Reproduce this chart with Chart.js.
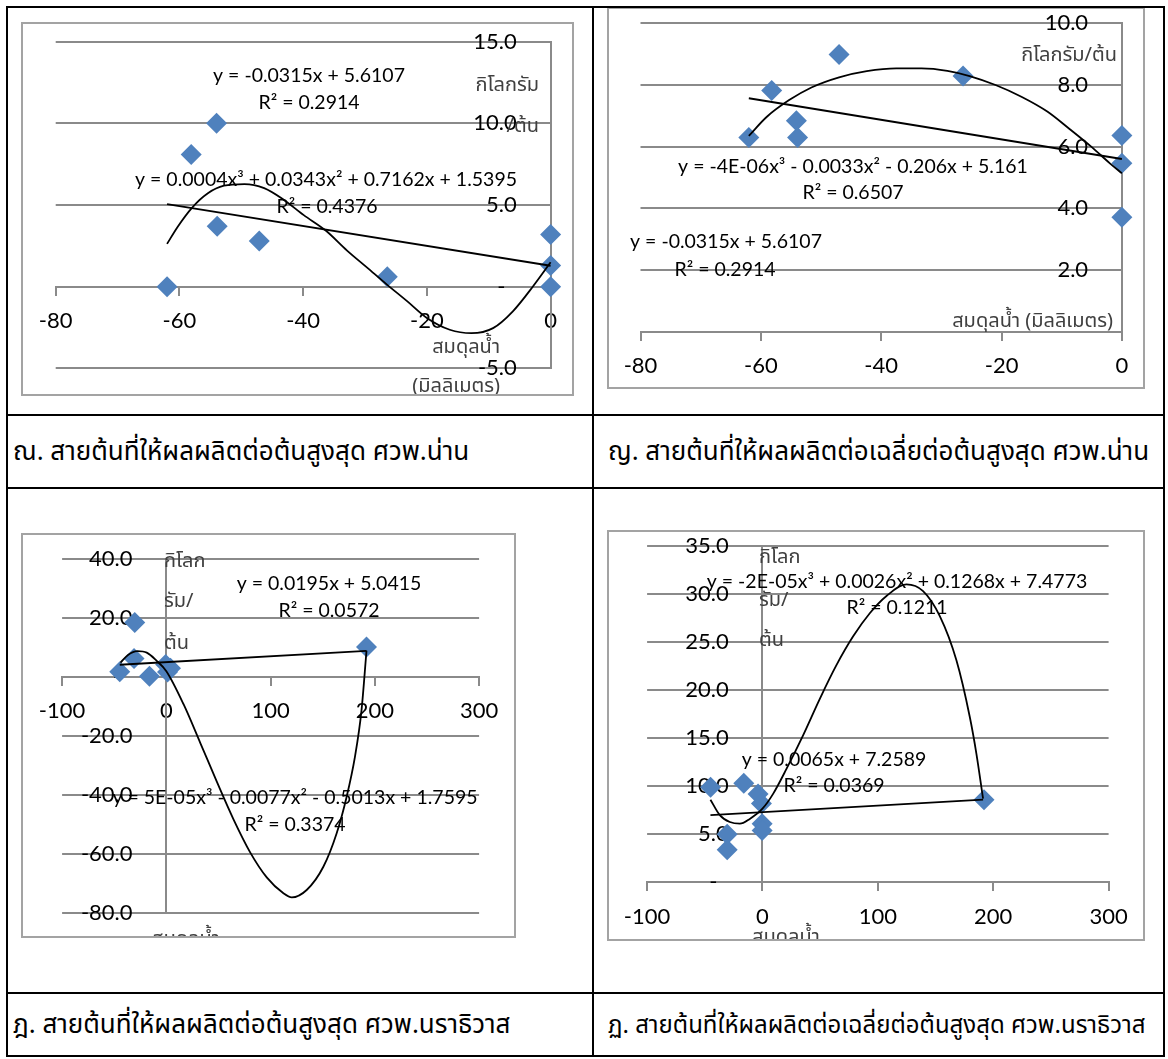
<!DOCTYPE html>
<html>
<head>
<meta charset="utf-8">
<script src="https://cdn.jsdelivr.net/npm/chart.js@4.4.0/dist/chart.umd.min.js"></script>
<style>
  body { margin: 0; background: #fff; }
  #page { position: relative; width: 1168px; height: 1059px; overflow: hidden; font-family: 'Noto Sans Thai', Loma, Garuda, 'DejaVu Sans', sans-serif; }
  .line { position: absolute; background: #000; z-index: 5; }
  .frame { position: absolute; box-sizing: border-box; border: 2px solid #a3a3a3; z-index: 3; }
  canvas { position: absolute; z-index: 2; }
  .cap { position: absolute; font-size: 26px; color: #000; white-space: nowrap; line-height: 1; }
</style>
</head>
<body>
<div id="page">
  <canvas id="c1" width="553" height="374" style="left:21px;top:22px"></canvas>
  <div class="frame" style="left:21px;top:22px;width:553px;height:374px"></div>
  <canvas id="c2" width="538" height="382" style="left:607px;top:7px"></canvas>
  <div class="frame" style="left:607px;top:7px;width:538px;height:382px"></div>
  <canvas id="c3" width="495" height="405" style="left:21px;top:533px"></canvas>
  <div class="frame" style="left:21px;top:533px;width:495px;height:405px"></div>
  <canvas id="c4" width="538" height="411" style="left:607px;top:530px"></canvas>
  <div class="frame" style="left:607px;top:530px;width:538px;height:411px"></div>

  <div class="line" style="left:6px;top:6px;width:1159px;height:2px"></div>
  <div class="line" style="left:6px;top:1055px;width:1159px;height:2px"></div>
  <div class="line" style="left:6px;top:6px;width:2px;height:1051px"></div>
  <div class="line" style="left:1163px;top:6px;width:2px;height:1051px"></div>
  <div class="line" style="left:592px;top:6px;width:2px;height:1051px"></div>
  <div class="line" style="left:6px;top:414px;width:1159px;height:2px"></div>
  <div class="line" style="left:6px;top:487px;width:1159px;height:2px"></div>
  <div class="line" style="left:6px;top:992px;width:1159px;height:2px"></div>

  <div class="cap" style="left:13px;top:439px">ณ. สายต้นที่ให้ผลผลิตต่อต้นสูงสุด ศวพ.น่าน</div>
  <div class="cap" style="left:608px;top:439px">ญ. สายต้นที่ให้ผลผลิตต่อเฉลี่ยต่อต้นสูงสุด ศวพ.น่าน</div>
  <div class="cap" style="left:13px;top:1012px">ฎ. สายต้นที่ให้ผลผลิตต่อต้นสูงสุด ศวพ.นราธิวาส</div>
  <div class="cap" style="left:608px;top:1014px;font-size:24px">ฏ. สายต้นที่ให้ผลผลิตต่อเฉลี่ยต่อต้นสูงสุด ศวพ.นราธิวาส</div>
</div>
<script>
// ณ. ผลผลิตต่อต้นสูงสุด ศวพ.น่าน
var nanMaxX = [-62, -58.1, -54, -53.9, -47.1, -26.4, 0, 0, 0];
var nanMaxY = [0, 8.1, 10.0, 3.7, 2.8, 0.6, 3.2, 1.3, 0];
var nanMaxLinX = [-62, 0];
var nanMaxLinY = [5.06, 1.28];
var nanMaxPolyX = [-62, -60.3, -57.9, -55.4, -52.8, -49.5, -46.3, -43.1, -39.9, -36.4, -32.9, -29.7, -26.5, -23.2, -20.0, -16.3, -12.8, -9.3, -6.1, -2.8, 0];
var nanMaxPolyY = [2.62, 3.66, 4.86, 5.72, 6.18, 6.28, 6.03, 5.31, 4.38, 3.45, 2.21, 1.18, 0.14, -0.89, -1.92, -2.64, -2.85, -2.54, -1.51, 0.04, 1.49];

// ญ. ผลผลิตเฉลี่ยต่อต้นสูงสุด ศวพ.น่าน
var nanAvgX = [-62, -58.2, -54.1, -53.9, -47, -26.4, 0, 0, 0];
var nanAvgY = [6.3, 7.82, 6.84, 6.3, 8.99, 8.29, 6.36, 5.46, 3.71];
var nanAvgLinX = [-62, 0];
var nanAvgLinY = [7.57, 5.6];
var nanAvgPolyX = [-62, -59, -55.3, -51.6, -47, -42.4, -37.5, -33.3, -29, -25.3, -21, -16.7, -12.4, -8.8, -5.1, -2, 0];
var nanAvgPolyY = [6.35, 6.97, 7.51, 7.92, 8.25, 8.45, 8.54, 8.54, 8.46, 8.29, 8.0, 7.62, 7.14, 6.59, 6.0, 5.46, 5.14];

// ฎ. ผลผลิตต่อต้นสูงสุด ศวพ.นราธิวาส
var narMaxX = [-44.7, -30.3, -31, -16.2, -0.7, 1.1, 4, 192];
var narMaxY = [1.8, 18.5, 6.3, 0.3, 4.3, 1.7, 3.0, 10.2];
var narMaxLinX = [-44.7, 192];
var narMaxLinY = [4.2, 8.9];
var narMaxPolyX = [-44, -36.8, -27.8, -18.8, -9.7, 0, 16.6, 32.5, 48.5, 64.4, 80.4, 96.3, 112.3, 120.3, 134.6, 150.6, 163.3, 172.9, 180.9, 187.2, 192];
var narMaxPolyY = [4.9, 7.5, 8.8, 8.3, 5.7, 2.0, -9.3, -22.3, -35.6, -48.3, -59.5, -68.0, -73.4, -74.8, -72.3, -64.4, -53.1, -40.7, -27.1, -11.3, 9.0];

// ฏ. ผลผลิตเฉลี่ยต่อต้นสูงสุด ศวพ.นราธิวาส
var narAvgX = [-45, -30.6, -30.6, -16.2, -3.8, -0.9, -0.3, -0.3, 192];
var narAvgY = [9.9, 5.0, 3.4, 10.3, 9.2, 8.2, 6.1, 5.4, 8.6];
var narAvgLinX = [-45.1, 191.2];
var narAvgLinY = [7.0, 8.6];
var narAvgPolyX = [-45.1, -37, -28.3, -19.6, -11, 0, 9.2, 20.8, 35.2, 49.7, 64.1, 78.6, 93, 107.5, 124.8, 139.2, 153.7, 168.1, 179.7, 185.4, 191.2];
var narAvgPolyY = [8.6, 7.0, 6.28, 6.1, 6.6, 7.66, 9.2, 11.8, 15.3, 19.1, 22.6, 25.6, 28.0, 29.8, 31.0, 30.3, 27.7, 23.1, 17.2, 13.4, 8.7];

var latin = 'Lato, "Open Sans", sans-serif';
var thai = '"Noto Sans Thai", Loma, Garuda, "DejaVu Sans", sans-serif';
var eqFont = '19.5px ' + latin;
var titleFont = '20px ' + thai;
var gridGray = '#8a8a8a';
// y labels sit a gap to the left of the axis (as Excel draws them)
var gap = '      ';
var dash = '-        ';

function pairs(xs, ys) {
  var out = [];
  for (var i = 0; i < xs.length; i++) out.push({x: xs[i], y: ys[i]});
  return out;
}

// text boxes drawn on top of the plot (equations, axis titles)
var notesPlugin = {
  id: 'notes',
  afterDraw: function(chart, args, opts) {
    var ctx = chart.ctx;
    ctx.save();
    opts.items.forEach(function(t) {
      ctx.font = t.font;
      ctx.fillStyle = t.color || '#000';
      ctx.textAlign = t.align || 'center';
      ctx.textBaseline = 'middle';
      ctx.fillText(t.text, t.x, t.y);
    });
    ctx.restore();
  }
};

function makeChart(id, cfg) {
  var ctx = document.getElementById(id).getContext('2d');
  return new Chart(ctx, {
    type: 'scatter',
    data: {
      datasets: [{
        type: 'line',
        data: pairs(cfg.polyX, cfg.polyY),
        borderColor: '#000',
        borderWidth: 1.8,
        pointRadius: 0,
        fill: false,
        cubicInterpolationMode: 'monotone',
        clip: false
      }, {
        type: 'line',
        data: pairs(cfg.linX, cfg.linY),
        borderColor: '#000',
        borderWidth: 1.8,
        pointRadius: 0,
        fill: false,
        tension: 0,
        clip: false
      }, {
        data: pairs(cfg.x, cfg.y),
        pointStyle: 'rectRot',
        pointRadius: 10.5,
        backgroundColor: '#4f81bd',
        borderColor: '#4f81bd',
        borderWidth: 0,
        clip: false
      }]
    },
    options: {
      responsive: false,
      animation: false,
      events: [],
      layout: { padding: cfg.pad },
      plugins: {
        legend: { display: false },
        tooltip: { enabled: false },
        notes: { items: cfg.notes }
      },
      scales: {
        x: {
          type: 'linear',
          min: cfg.xMin, max: cfg.xMax,
          position: { y: 0 },
          ticks: { stepSize: cfg.xStep, padding: 13, color: '#000', font: { family: latin, size: 22 } },
          grid: { drawOnChartArea: false, tickLength: 8, color: gridGray, lineWidth: 2 },
          border: { color: gridGray, width: 2 },
          afterFit: function(s) { s.height = 0; s.paddingLeft = 0; s.paddingRight = 0; }
        },
        y: {
          type: 'linear',
          min: cfg.yMin, max: cfg.yMax,
          position: { x: 0 },
          ticks: {
            stepSize: cfg.yStep, color: '#000', font: { family: latin, size: 22 },
            callback: function(v) { return v === 0 ? cfg.zeroLabel : v.toFixed(1) + gap; }
          },
          grid: { drawTicks: false, color: gridGray, lineWidth: 2 },
          border: { color: gridGray, width: 2 },
          afterFit: function(s) { s.width = 0; s.paddingTop = 0; s.paddingBottom = 0; }
        }
      }
    },
    plugins: [notesPlugin]
  });
}

makeChart('c1', {
  x: nanMaxX, y: nanMaxY, linX: nanMaxLinX, linY: nanMaxLinY, polyX: nanMaxPolyX, polyY: nanMaxPolyY,
  xMin: -80, xMax: 0, xStep: 20, yMin: -5, yMax: 15, yStep: 5, zeroLabel: dash,
  pad: { left: 34.7, right: 23.4, top: 19.7, bottom: 27.7 },
  notes: [
    { text: 'y = -0.0315x + 5.6107', x: 288, y: 54, font: eqFont },
    { text: 'R² = 0.2914', x: 288, y: 81, font: eqFont },
    { text: 'y = 0.0004x³ + 0.0343x² + 0.7162x + 1.5395', x: 305, y: 158, font: eqFont },
    { text: 'R² = 0.4376', x: 306, y: 185, font: eqFont },
    { text: 'กิโลกรัม', x: 518, y: 65, font: titleFont, align: 'right', color: '#404040' },
    { text: '/ต้น', x: 518, y: 106, font: titleFont, align: 'right', color: '#404040' },
    { text: 'สมดุลน้ำ', x: 479, y: 327, font: titleFont, align: 'right', color: '#404040' },
    { text: '(มิลลิเมตร)', x: 479, y: 366, font: titleFont, align: 'right', color: '#404040' }
  ]
});

makeChart('c2', {
  x: nanAvgX, y: nanAvgY, linX: nanAvgLinX, linY: nanAvgLinY, polyX: nanAvgPolyX, polyY: nanAvgPolyY,
  xMin: -80, xMax: 0, xStep: 20, yMin: 0, yMax: 10, yStep: 2, zeroLabel: '',
  pad: { left: 33.5, right: 23.1, top: 16.3, bottom: 57.3 },
  notes: [
    { text: 'y = -4E-06x³ - 0.0033x² - 0.206x + 5.161', x: 246, y: 160, font: eqFont },
    { text: 'R² = 0.6507', x: 246, y: 186, font: eqFont },
    { text: 'y = -0.0315x + 5.6107', x: 119, y: 235, font: eqFont },
    { text: 'R² = 0.2914', x: 118, y: 263, font: eqFont },
    { text: 'กิโลกรัม/ต้น', x: 510, y: 50, font: titleFont, align: 'right', color: '#404040' },
    { text: 'สมดุลน้ำ (มิลลิเมตร)', x: 506, y: 316, font: titleFont, align: 'right', color: '#404040' }
  ]
});

makeChart('c3', {
  x: narMaxX, y: narMaxY, linX: narMaxLinX, linY: narMaxLinY, polyX: narMaxPolyX, polyY: narMaxPolyY,
  xMin: -100, xMax: 300, xStep: 100, yMin: -80, yMax: 40, yStep: 20, zeroLabel: dash,
  pad: { left: 41.1, right: 36.9, top: 26.3, bottom: 25.3 },
  notes: [
    { text: 'y = 0.0195x + 5.0415', x: 308, y: 51, font: eqFont },
    { text: 'R² = 0.0572', x: 308, y: 78, font: eqFont },
    { text: 'y = 5E-05x³ - 0.0077x² - 0.5013x + 1.7595', x: 274, y: 265, font: eqFont },
    { text: 'R² = 0.3374', x: 274, y: 292, font: eqFont },
    { text: 'กิโลก', x: 143, y: 30, font: titleFont, align: 'left', color: '#404040' },
    { text: 'รัม/', x: 143, y: 70, font: titleFont, align: 'left', color: '#404040' },
    { text: 'ต้น', x: 143, y: 112, font: titleFont, align: 'left', color: '#404040' },
    { text: 'สมดุลน้ำ', x: 131, y: 408, font: titleFont, align: 'left', color: '#404040' }
  ]
});

makeChart('c4', {
  x: narAvgX, y: narAvgY, linX: narAvgLinX, linY: narAvgLinY, polyX: narAvgPolyX, polyY: narAvgPolyY,
  xMin: -100, xMax: 300, xStep: 100, yMin: 0, yMax: 35, yStep: 5, zeroLabel: dash,
  pad: { left: 40.1, right: 36.4, top: 16, bottom: 58.7 },
  notes: [
    { text: 'y = -2E-05x³ + 0.0026x² + 0.1268x + 7.4773', x: 290, y: 52, font: eqFont },
    { text: 'R² = 0.1211', x: 290, y: 78, font: eqFont },
    { text: 'y = 0.0065x + 7.2589', x: 227, y: 230, font: eqFont },
    { text: 'R² = 0.0369', x: 227, y: 256, font: eqFont },
    { text: 'กิโลก', x: 152, y: 29, font: titleFont, align: 'left', color: '#404040' },
    { text: 'รัม/', x: 152, y: 72, font: titleFont, align: 'left', color: '#404040' },
    { text: 'ต้น', x: 152, y: 112, font: titleFont, align: 'left', color: '#404040' },
    { text: 'สมดุลน้ำ', x: 145, y: 409, font: titleFont, align: 'left', color: '#404040' }
  ]
});
</script>
</body>
</html>
